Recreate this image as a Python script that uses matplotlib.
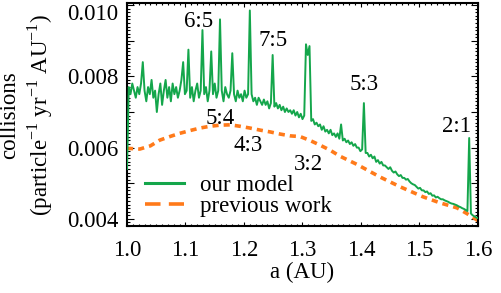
import numpy as np
import matplotlib
matplotlib.use("Agg")
import matplotlib.pyplot as plt
from matplotlib.ticker import MultipleLocator, FuncFormatter
from matplotlib.lines import Line2D
from matplotlib.transforms import ScaledTranslation

# --- data ---
# our model: collision rate (units of 1e-3) sampled every 0.003 AU from 1.0 to 1.6
a_start = 1.0
a_step = 0.003
ours_milli = [
    5.4, 7.7, 7.5, 7.8, 7.6, 7.4, 7.7, 7.5, 7.8, 8.4,
    7.6, 7.3, 7.7, 7.5, 7.9, 7.4, 7.6, 7.0, 7.5, 7.8,
    7.2, 7.6, 7.9, 7.4, 7.7, 7.3, 7.8, 7.5, 7.7, 7.4,
    7.6, 7.9, 8.4, 7.5, 7.6, 8.75, 7.4, 7.7, 7.3, 7.6,
    7.8, 7.4, 7.6, 9.3, 7.5, 7.7, 7.3, 7.6, 8.7, 7.5,
    7.8, 7.4, 7.6, 9.6, 7.6, 7.3, 7.7, 7.5, 7.4, 7.6,
    8.65, 7.5, 7.3, 7.6, 7.4, 7.5, 7.3, 7.6, 7.4, 7.5,
    9.85, 7.5, 7.3, 7.4, 7.2, 7.4, 7.3, 7.2, 7.35, 7.2,
    7.3, 7.1, 7.25, 8.6, 7.15, 7.25, 7.1, 7.2, 7.05, 7.15,
    7.0, 7.1, 7.0, 7.05, 6.95, 7.05, 6.9, 7.0, 6.85, 6.95,
    6.8, 6.9, 8.9, 8.6, 8.85, 6.75, 6.8, 6.65, 6.7, 6.6,
    6.65, 6.5, 6.6, 6.45, 6.5, 6.4, 6.5, 6.35, 6.4, 6.3,
    6.4, 6.25, 6.65, 6.2, 6.25, 6.15, 6.2, 6.1, 6.15, 6.05,
    6.1, 6.0, 6.0, 5.9, 5.95, 7.25, 5.85, 5.85, 5.75, 5.8,
    5.7, 5.75, 5.6, 5.65, 5.55, 5.6, 5.5, 5.5, 5.45, 5.4,
    5.45, 5.35, 5.3, 5.33, 5.25, 5.2, 5.23, 5.15, 5.15, 5.1,
    5.12, 5.05, 5.0, 4.97, 4.95, 4.9, 4.85, 4.87, 4.8, 4.8,
    4.75, 4.77, 4.7, 4.72, 4.65, 4.66, 4.6, 4.62, 4.58, 4.55,
    4.55, 4.52, 4.5, 4.48, 4.45, 4.43, 4.42, 4.4, 4.38, 4.35,
    4.33, 4.3, 4.28, 4.25, 4.22, 6.27, 4.15, 4.1, 4.07, 4.04,
    4.02,
]

# previous work (smooth curve)
prev_a = [1.000, 1.022, 1.040, 1.056, 1.075, 1.090, 1.108, 1.125, 1.142, 1.159,
          1.176, 1.193, 1.210, 1.228, 1.245, 1.262, 1.279, 1.296, 1.313, 1.330,
          1.347, 1.364, 1.393, 1.432, 1.467, 1.506, 1.535, 1.564, 1.581, 1.600]
prev_milli = [5.98, 5.96, 6.05, 6.21, 6.32, 6.40, 6.48, 6.55, 6.60, 6.63,
              6.64, 6.60, 6.55, 6.49, 6.44, 6.38, 6.33, 6.31, 6.20, 6.07,
              5.93, 5.76, 5.53, 5.18, 4.90, 4.62, 4.45, 4.31, 4.15, 3.95]

# resonance labels
res_names = ["6:5", "7:5", "5:3", "2:1", "5:4", "4:3", "3:2"]
res_a = [1.123, 1.250, 1.405, 1.564, 1.159, 1.207, 1.311]
res_y = [0.00954, 0.00901, 0.00778, 0.00658, 0.00683, 0.00607, 0.00554]

green = "#14a64b"
orange = "#ff7a1a"

plt.rcParams["font.family"] = ["Liberation Serif", "DejaVu Serif"]
plt.rcParams["mathtext.fontset"] = "custom"
plt.rcParams["mathtext.rm"] = "Liberation Serif"
plt.rcParams["font.size"] = 16.5

a = a_start + a_step * np.arange(len(ours_milli))
ours = np.array(ours_milli) * 1e-3
prev = np.array(prev_milli) * 1e-3

fig = plt.figure(figsize=(5.01, 2.93), dpi=100)
ax = fig.add_axes([0.2535, 0.2287, 0.7005, 0.7611])

ax.plot(a, ours, color=green, lw=1.4, zorder=3)
ax.plot(prev_a, prev, color=orange, lw=2.6, dashes=(1.7, 1.4), zorder=2)

for name, x, y in zip(res_names, res_a, res_y):
    ax.text(x, y, name, ha="center", va="center")

ax.set_xlim(1.0, 1.6)
ax.set_ylim(0.0038, 0.01006)

ax.xaxis.set_major_locator(MultipleLocator(0.1))
ax.xaxis.set_minor_locator(MultipleLocator(0.01))
ax.xaxis.set_major_formatter(FuncFormatter(lambda v, p: f"{v:.1f}"))
ax.yaxis.set_major_locator(MultipleLocator(0.001))
ax.yaxis.set_minor_locator(MultipleLocator(0.0001))
ax.yaxis.set_major_formatter(
    FuncFormatter(lambda v, p: f"{v:.3f}" if round(v * 1000) % 2 == 0 else ""))

ax.tick_params(which="both", direction="in", top=True, right=True, width=0.8)
ax.tick_params(axis="x", which="major", length=3, pad=10)
ax.tick_params(axis="x", which="minor", length=1.5)
ax.tick_params(axis="y", which="major", length=5, pad=6)
ax.tick_params(axis="y", which="minor", length=2.5)
for s in ax.spines.values():
    s.set_linewidth(1.5)

# the top label sits a little lower, as in the reference
fig.canvas.draw()
for tick in ax.yaxis.get_major_ticks():
    if abs(tick.get_loc() - 0.010) < 1e-6:
        lab = tick.label1
        lab.set_transform(lab.get_transform() + ScaledTranslation(0, -5 / 72, fig.dpi_scale_trans))

ax.set_xlabel("a (AU)", labelpad=1)
fig.text(10 / 501, 1 - 115 / 293, "collisions",
         rotation=90, ha="center", va="center")
fig.text(40 / 501, 1 - 115 / 293, "(particle$^{-1}$ yr$^{-1}$ AU$^{-1}$)",
         rotation=90, ha="center", va="center")

handles = [Line2D([], [], color=green, lw=2.2),
           Line2D([], [], color=orange, lw=2.6, dashes=(4.3, 2.3))]
ax.legend(handles, ["our model", "previous work"], loc="lower left",
          bbox_to_anchor=(0.05, 0.04), frameon=False, borderpad=0,
          borderaxespad=0, handlelength=1.7, handletextpad=0.7,
          labelspacing=0.0)

fig.savefig("out.png", dpi=100)
